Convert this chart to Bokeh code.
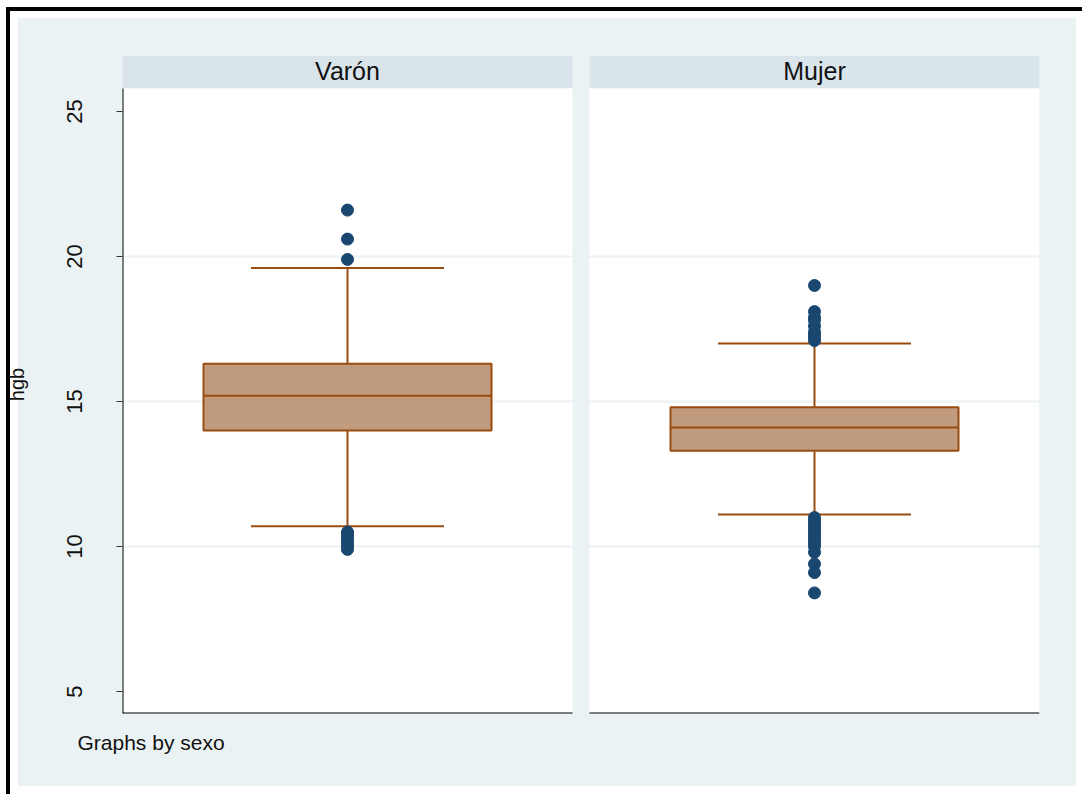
import math
from bokeh.plotting import figure
from bokeh.models import Range1d, FixedTicker, Title, ColumnDataSource
from bokeh.core.properties import value
from bokeh.embed import file_html
from bokeh.resources import INLINE

# ---- data: hgb by sexo ----
groups = ["Varón", "Mujer"]
q1 = [14.0, 13.3]
median = [15.2, 14.1]
q3 = [16.3, 14.8]
lower_whisker = [10.7, 11.1]
upper_whisker = [19.6, 17.0]
outliers_varon = [21.6, 20.6, 19.9, 10.5, 10.4, 10.3, 10.2, 10.1, 10.0, 9.9]
outliers_mujer = [19.0, 18.1, 17.9, 17.8, 17.6, 17.4, 17.3, 17.2, 17.1,
                  11.0, 10.9, 10.8, 10.7, 10.6, 10.5, 10.4, 10.3, 10.2,
                  10.1, 10.0, 9.8, 9.4, 9.1, 8.4]
y_ticks = [5, 10, 15, 20, 25]
grid_ticks = [10, 15, 20]

# ---- styling ----
FONT = "Liberation Sans"
BG = "#EAF2F3"
STRIP = "#D9E5EB"
BOX_FILL = "#C19B7D"
BOX_LINE = "#994C10"
DOT = "#1A476F"

pos = [1, 2]                # panel centres on the x scale
half_panel = 225 / 467      # half width of each panel
half_box = 144 / 467
half_cap = 96.5 / 467
y_lo, y_hi = 25 - 602 / 29, 25 + 56 / 29   # frame extent incl. strip
plot_top = 25 + 23 / 29                     # top of plot area / bottom of strip

p = figure(
    width=1082, height=794,
    x_range=Range1d(pos[0] - half_panel, pos[1] + half_panel),
    y_range=Range1d(y_lo, y_hi),
    x_axis_location=None,
    toolbar_location=None, output_backend="svg",
    min_border_left=122, min_border_right=43,
    min_border_top=55, min_border_bottom=81,
    border_fill_color=None, background_fill_color=None,
    outline_line_color=None,
    styles={
        "background": (
            f"linear-gradient({BG},{BG}) 18px 18px / 1058px 768px no-repeat, "
            "linear-gradient(#000,#000) 6px 7px / 1076px 4px no-repeat, "
            "linear-gradient(#000,#000) 6px 7px / 4px 787px no-repeat, #ffffff"
        )
    },
)

# white plot areas and title strips
lefts = [c - half_panel for c in pos]
rights = [c + half_panel for c in pos]
panels = p.quad(left=lefts, right=rights, bottom=y_lo, top=plot_top,
                fill_color="white", line_color=None)
panels.level = "image"
p.quad(left=lefts, right=rights, bottom=plot_top + 0.02, top=y_hi,
       fill_color=STRIP, line_color=None)
p.text(x=pos, y=[25 + 41 / 29] * 2, text=groups,
       text_font=value(FONT), text_font_size="25px", text_color="#111111",
       text_align="center", text_baseline="middle")

# axes frame lines (y axis on first panel, baseline under both panels)
p.segment(x0=[lefts[0]], y0=[y_lo], x1=[lefts[0]], y1=[plot_top],
          line_color="black", line_width=2)
p.segment(x0=lefts, y0=[y_lo] * 2, x1=rights, y1=[y_lo] * 2,
          line_color="black", line_width=2)

# y axis
ax = p.yaxis[0]
ax.ticker = FixedTicker(ticks=y_ticks)
ax.axis_line_color = None
ax.major_tick_out = 6
ax.major_tick_in = 0
ax.minor_tick_line_color = None
ax.major_tick_line_color = "#333333"
ax.major_label_orientation = "vertical"
ax.major_label_text_font = FONT
ax.major_label_text_font_size = "22px"
ax.major_label_text_color = "#111111"
ax.major_label_standoff = 35
ax.axis_label = "hgb"
ax.axis_label_text_font = FONT
ax.axis_label_text_font_size = "20px"
ax.axis_label_text_font_style = "normal"
ax.axis_label_text_color = "#111111"
ax.axis_label_standoff = 36

p.xgrid.visible = False
p.ygrid.ticker = FixedTicker(ticks=grid_ticks)
p.ygrid.grid_line_color = BG
p.ygrid.grid_line_width = 2

# boxes
src = ColumnDataSource(dict(x=pos, q1=q1, med=median, q3=q3,
                            lw=lower_whisker, uw=upper_whisker,
                            bl=[c - half_box for c in pos],
                            br=[c + half_box for c in pos],
                            cl=[c - half_cap for c in pos],
                            cr=[c + half_cap for c in pos]))
p.segment(x0="x", y0="q3", x1="x", y1="uw", source=src,
          line_color=BOX_LINE, line_width=2)
p.segment(x0="x", y0="q1", x1="x", y1="lw", source=src,
          line_color=BOX_LINE, line_width=2)
p.segment(x0="cl", y0="uw", x1="cr", y1="uw", source=src,
          line_color=BOX_LINE, line_width=2)
p.segment(x0="cl", y0="lw", x1="cr", y1="lw", source=src,
          line_color=BOX_LINE, line_width=2)
p.quad(left="bl", right="br", bottom="q1", top="q3", source=src,
       fill_color=BOX_FILL, line_color=BOX_LINE, line_width=2)
p.segment(x0="bl", y0="med", x1="br", y1="med", source=src,
          line_color=BOX_LINE, line_width=2)

# outside values
out_x = [pos[0]] * len(outliers_varon) + [pos[1]] * len(outliers_mujer)
out_y = outliers_varon + outliers_mujer
p.scatter(x=out_x, y=out_y, size=12, fill_color=DOT, line_color=DOT)

# note under the panels
p.add_layout(Title(text="Graphs by sexo", align="left", offset=-45,
                   standoff=31, text_font=FONT, text_font_size="21px",
                   text_font_style="normal", text_color="#111111"), "below")

open("out.html", "w").write(file_html(p, INLINE))
